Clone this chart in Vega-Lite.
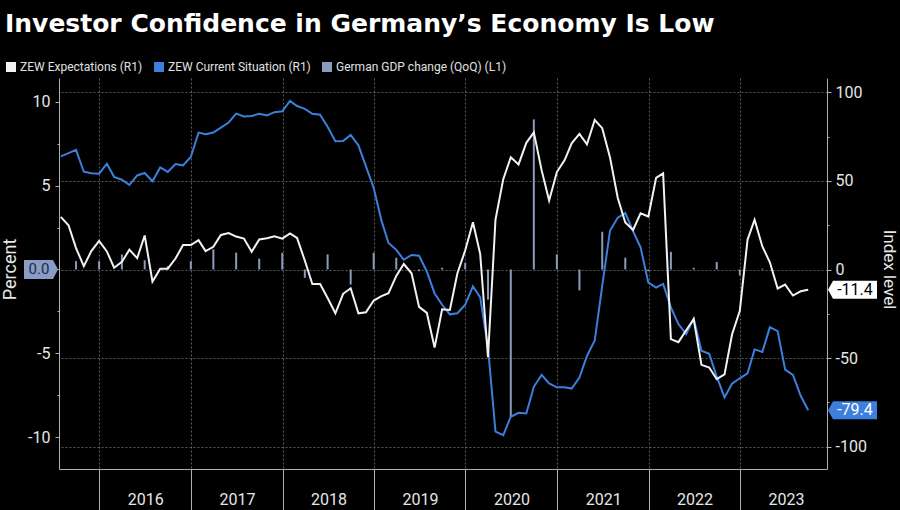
{
  "$schema": "https://vega.github.io/schema/vega-lite/v6.json",
  "width": 768,
  "height": 391,
  "autosize": "none",
  "padding": {"left": 59, "top": 78, "right": 73, "bottom": 41},
  "background": "#000000",
  "title": {
    "text": "Investor Confidence in Germany’s Economy Is Low",
    "anchor": "start",
    "frame": "group",
    "dx": -54,
    "offset": 4,
    "baseline": "alphabetic",
    "font": "DejaVu Sans",
    "fontSize": 25,
    "fontWeight": "bold",
    "color": "#ffffff"
  },
  "datasets": {
    "zew": [
      {"d": "2015-07-31", "e": 29.7, "c": 63.9},
      {"d": "2015-08-31", "e": 25.0, "c": 65.7},
      {"d": "2015-09-30", "e": 12.1, "c": 67.5},
      {"d": "2015-10-31", "e": 1.9, "c": 55.2},
      {"d": "2015-11-30", "e": 10.4, "c": 54.4},
      {"d": "2015-12-31", "e": 16.1, "c": 54.1},
      {"d": "2016-01-31", "e": 10.2, "c": 59.7},
      {"d": "2016-02-29", "e": 1.0, "c": 52.3},
      {"d": "2016-03-31", "e": 4.3, "c": 50.7},
      {"d": "2016-04-30", "e": 11.2, "c": 47.7},
      {"d": "2016-05-31", "e": 6.4, "c": 53.1},
      {"d": "2016-06-30", "e": 19.2, "c": 54.5},
      {"d": "2016-07-31", "e": -6.8, "c": 49.8},
      {"d": "2016-08-31", "e": 0.5, "c": 57.6},
      {"d": "2016-09-30", "e": 0.5, "c": 55.1},
      {"d": "2016-10-31", "e": 6.2, "c": 59.5},
      {"d": "2016-11-30", "e": 13.8, "c": 58.8},
      {"d": "2016-12-31", "e": 13.8, "c": 63.5},
      {"d": "2017-01-31", "e": 16.6, "c": 77.3},
      {"d": "2017-02-28", "e": 10.4, "c": 76.4},
      {"d": "2017-03-31", "e": 12.8, "c": 77.3},
      {"d": "2017-04-30", "e": 19.5, "c": 80.1},
      {"d": "2017-05-31", "e": 20.6, "c": 83.0},
      {"d": "2017-06-30", "e": 18.6, "c": 88.0},
      {"d": "2017-07-31", "e": 17.5, "c": 86.4},
      {"d": "2017-08-31", "e": 10.0, "c": 86.7},
      {"d": "2017-09-30", "e": 17.0, "c": 87.9},
      {"d": "2017-10-31", "e": 17.6, "c": 87.0},
      {"d": "2017-11-30", "e": 18.7, "c": 88.8},
      {"d": "2017-12-31", "e": 17.4, "c": 89.3},
      {"d": "2018-01-31", "e": 20.4, "c": 95.2},
      {"d": "2018-02-28", "e": 17.8, "c": 92.3},
      {"d": "2018-03-31", "e": 5.1, "c": 90.7},
      {"d": "2018-04-30", "e": -8.2, "c": 87.9},
      {"d": "2018-05-31", "e": -8.2, "c": 87.4},
      {"d": "2018-06-30", "e": -16.1, "c": 80.6},
      {"d": "2018-07-31", "e": -24.7, "c": 72.4},
      {"d": "2018-08-31", "e": -13.7, "c": 72.6},
      {"d": "2018-09-30", "e": -10.6, "c": 76.0},
      {"d": "2018-10-31", "e": -24.7, "c": 70.1},
      {"d": "2018-11-30", "e": -24.1, "c": 58.2},
      {"d": "2018-12-31", "e": -17.5, "c": 46.0},
      {"d": "2019-01-31", "e": -15.0, "c": 27.6},
      {"d": "2019-02-28", "e": -13.4, "c": 15.0},
      {"d": "2019-03-31", "e": -3.6, "c": 11.1},
      {"d": "2019-04-30", "e": 3.1, "c": 5.5},
      {"d": "2019-05-31", "e": -2.1, "c": 8.2},
      {"d": "2019-06-30", "e": -21.1, "c": 7.8},
      {"d": "2019-07-31", "e": -24.5, "c": -1.1},
      {"d": "2019-08-31", "e": -44.1, "c": -13.5},
      {"d": "2019-09-30", "e": -22.5, "c": -19.9},
      {"d": "2019-10-31", "e": -22.8, "c": -25.3},
      {"d": "2019-11-30", "e": -2.1, "c": -24.7},
      {"d": "2019-12-31", "e": 10.7, "c": -19.9},
      {"d": "2020-01-31", "e": 26.7, "c": -9.5},
      {"d": "2020-02-29", "e": 8.7, "c": -15.7},
      {"d": "2020-03-31", "e": -49.5, "c": -44.0},
      {"d": "2020-04-30", "e": 28.2, "c": -91.5},
      {"d": "2020-05-31", "e": 51.0, "c": -93.5},
      {"d": "2020-06-30", "e": 63.4, "c": -83.1},
      {"d": "2020-07-31", "e": 59.3, "c": -80.9},
      {"d": "2020-08-31", "e": 71.5, "c": -81.3},
      {"d": "2020-09-30", "e": 77.4, "c": -66.2},
      {"d": "2020-10-31", "e": 56.1, "c": -59.5},
      {"d": "2020-11-30", "e": 39.0, "c": -64.3},
      {"d": "2020-12-31", "e": 55.0, "c": -66.5},
      {"d": "2021-01-31", "e": 61.8, "c": -66.4},
      {"d": "2021-02-28", "e": 71.2, "c": -67.2},
      {"d": "2021-03-31", "e": 76.6, "c": -61.0},
      {"d": "2021-04-30", "e": 70.7, "c": -48.8},
      {"d": "2021-05-31", "e": 84.4, "c": -40.1},
      {"d": "2021-06-30", "e": 79.8, "c": -9.1},
      {"d": "2021-07-31", "e": 63.3, "c": 21.9},
      {"d": "2021-08-31", "e": 40.4, "c": 29.3},
      {"d": "2021-09-30", "e": 26.5, "c": 31.9},
      {"d": "2021-10-31", "e": 22.3, "c": 21.6},
      {"d": "2021-11-30", "e": 31.7, "c": 12.5},
      {"d": "2021-12-31", "e": 29.9, "c": -7.4},
      {"d": "2022-01-31", "e": 51.7, "c": -10.2},
      {"d": "2022-02-28", "e": 54.3, "c": -8.1},
      {"d": "2022-03-31", "e": -39.3, "c": -21.4},
      {"d": "2022-04-30", "e": -41.0, "c": -30.8},
      {"d": "2022-05-31", "e": -34.3, "c": -36.5},
      {"d": "2022-06-30", "e": -28.0, "c": -27.6},
      {"d": "2022-07-31", "e": -53.8, "c": -45.8},
      {"d": "2022-08-31", "e": -55.3, "c": -47.6},
      {"d": "2022-09-30", "e": -61.9, "c": -60.5},
      {"d": "2022-10-31", "e": -59.2, "c": -72.2},
      {"d": "2022-11-30", "e": -36.7, "c": -64.5},
      {"d": "2022-12-31", "e": -23.3, "c": -61.4},
      {"d": "2023-01-31", "e": 16.9, "c": -58.6},
      {"d": "2023-02-28", "e": 28.1, "c": -45.1},
      {"d": "2023-03-31", "e": 13.0, "c": -46.5},
      {"d": "2023-04-30", "e": 4.1, "c": -32.5},
      {"d": "2023-05-31", "e": -10.7, "c": -34.8},
      {"d": "2023-06-30", "e": -8.5, "c": -56.5},
      {"d": "2023-07-31", "e": -14.7, "c": -59.5},
      {"d": "2023-08-31", "e": -12.3, "c": -71.3},
      {"d": "2023-09-30", "e": -11.4, "c": -79.4}
    ],
    "gdp": [
      {"d": "2015-09-30", "g": 0.5},
      {"d": "2015-12-31", "g": 0.5},
      {"d": "2016-03-31", "g": 0.9},
      {"d": "2016-06-30", "g": 0.55},
      {"d": "2016-09-30", "g": 0.2},
      {"d": "2016-12-31", "g": 0.5},
      {"d": "2017-03-31", "g": 1.2},
      {"d": "2017-06-30", "g": 1.0},
      {"d": "2017-09-30", "g": 0.65},
      {"d": "2017-12-31", "g": 1.0},
      {"d": "2018-03-31", "g": -0.5},
      {"d": "2018-06-30", "g": 0.9},
      {"d": "2018-09-30", "g": -0.9},
      {"d": "2018-12-31", "g": 1.0},
      {"d": "2019-03-31", "g": 0.7},
      {"d": "2019-06-30", "g": -0.1},
      {"d": "2019-09-30", "g": 0.1},
      {"d": "2019-12-31", "g": 0.4},
      {"d": "2020-03-31", "g": -1.8},
      {"d": "2020-06-30", "g": -8.8},
      {"d": "2020-09-30", "g": 8.95},
      {"d": "2020-12-31", "g": 0.9},
      {"d": "2021-03-31", "g": -1.25},
      {"d": "2021-06-30", "g": 2.25},
      {"d": "2021-09-30", "g": 0.7},
      {"d": "2021-12-31", "g": -0.1},
      {"d": "2022-03-31", "g": 1.05},
      {"d": "2022-06-30", "g": 0.1},
      {"d": "2022-09-30", "g": 0.45},
      {"d": "2022-12-31", "g": -0.35},
      {"d": "2023-03-31", "g": 0.05},
      {"d": "2023-06-30", "g": 0.0}
    ],
    "lastLeft": [{"v": 0.0, "t": "0.0"}],
    "lastRight": [
      {"v": -11.4, "t": "-11.4"},
      {"v": -79.4, "t": "-79.4"}
    ]
  },
  "layer": [
    {
      "layer": [
        {
          "data": {"name": "gdp"},
          "mark": {"type": "rule", "strokeWidth": 2},
          "encoding": {
            "x": {
              "field": "d",
              "type": "temporal",
              "scale": {
                "type": "utc",
                "domain": [
                  {"year": 2015, "month": 7, "date": 24, "utc": true},
                  {"year": 2023, "month": 12, "date": 14, "utc": true}
                ]
              },
              "axis": {
                "title": null,
                "values": [
                  {"year": 2016, "month": 1, "date": 1, "utc": true},
                  {"year": 2017, "month": 1, "date": 1, "utc": true},
                  {"year": 2018, "month": 1, "date": 1, "utc": true},
                  {"year": 2019, "month": 1, "date": 1, "utc": true},
                  {"year": 2020, "month": 1, "date": 1, "utc": true},
                  {"year": 2021, "month": 1, "date": 1, "utc": true},
                  {"year": 2022, "month": 1, "date": 1, "utc": true},
                  {"year": 2023, "month": 1, "date": 1, "utc": true}
                ],
                "labelExpr": "utcFormat(datum.value, '%Y')",
                "labelOffset": 46,
                "labelBound": false,
                "labelFlush": false,
                "labelOverlap": false,
                "labelBaseline": "middle",
                "tickSize": 41,
                "labelPadding": -11,
                "grid": true
              }
            },
            "y": {
              "field": "g",
              "type": "quantitative",
              "scale": {"domain": [-11.9, 11.42], "nice": false, "zero": false},
              "axis": {
                "orient": "left",
                "title": "Percent",
                "titleAngle": -90,
                "titleX": -49,
                "titleY": 191,
                "titleAlign": "center",
                "titleBaseline": "middle",
                "values": [-10, -7.5, -5, -2.5, 0, 2.5, 5, 7.5, 10],
                "labelExpr": "datum.value % 5 === 0 && datum.value !== 0 ? '' + datum.value : ''",
                "tickSize": {"condition": {"test": "datum.value % 5 === 0", "value": 4}, "value": 2},
                "labelPadding": 5,
                "grid": false
              }
            },
            "y2": {"datum": 0},
            "color": {
              "datum": "German GDP change (QoQ) (L1)",
              "type": "nominal",
              "scale": {
                "domain": ["ZEW Expectations (R1)", "ZEW Current Situation (R1)", "German GDP change (QoQ) (L1)"],
                "range": ["#f2f2f2", "#3d7fdc", "#8b9bbd"]
              },
              "legend": {
                "title": null,
                "orient": "none",
                "legendX": -54,
                "legendY": -17,
                "direction": "horizontal",
                "symbolType": "square",
                "symbolSize": 100,
                "labelFont": "Roboto",
                "labelFontSize": 12,
                "labelLimit": 400,
                "labelColor": "#e0e0e0",
                "labelOffset": 3,
                "columnPadding": 10,
                "encode": {
                  "symbols": {
                    "update": {
                      "fill": {"scale": "color", "field": "value"},
                      "opacity": {"value": 1},
                      "strokeWidth": {"value": 0}
                    }
                  }
                }
              }
            }
          }
        },
        {
          "data": {"name": "lastLeft"},
          "mark": {
            "type": "point",
            "shape": "M-0.1,0 L-0.6,-0.95 L-3.5,-0.95 L-3.5,0.95 L-0.6,0.95 Z",
            "size": 400,
            "filled": true,
            "opacity": 1,
            "strokeWidth": 0,
            "color": "#8a9cc4"
          },
          "encoding": {
            "x": {"datum": {"year": 2015, "month": 7, "date": 24, "utc": true}, "type": "temporal"},
            "y": {"field": "v", "type": "quantitative"}
          }
        },
        {
          "data": {"name": "lastLeft"},
          "mark": {
            "type": "text",
            "dx": -20,
            "align": "center",
            "baseline": "middle",
            "font": "Roboto",
            "fontSize": 15,
            "color": "#1b2b4b"
          },
          "encoding": {
            "x": {"datum": {"year": 2015, "month": 7, "date": 24, "utc": true}, "type": "temporal"},
            "y": {"field": "v", "type": "quantitative"},
            "text": {"field": "t"}
          }
        }
      ]
    },
    {
      "layer": [
        {
          "data": {"name": "zew"},
          "mark": {"type": "line", "strokeWidth": 2},
          "encoding": {
            "x": {"field": "d", "type": "temporal"},
            "y": {
              "field": "c",
              "type": "quantitative",
              "scale": {"domain": [-112.6, 108.1], "nice": false, "zero": false},
              "axis": {
                "orient": "right",
                "title": "Index level",
                "titleAngle": 90,
                "titleX": 61,
                "titleY": 191,
                "titleFontSize": 17,
                "titleAlign": "center",
                "titleBaseline": "middle",
                "values": [-100, -75, -50, -25, 0, 25, 50, 75, 100],
                "labelExpr": "datum.value % 50 === 0 ? '' + datum.value : ''",
                "tickSize": {"condition": {"test": "datum.value % 50 === 0", "value": 4}, "value": 2},
                "labelPadding": 4,
                "grid": true,
                "gridOpacity": {"condition": {"test": "datum.value % 50 === 0", "value": 1}, "value": 0}
              }
            },
            "color": {"datum": "ZEW Current Situation (R1)", "type": "nominal"}
          }
        },
        {
          "data": {"name": "zew"},
          "mark": {"type": "line", "strokeWidth": 2},
          "encoding": {
            "x": {"field": "d", "type": "temporal"},
            "y": {"field": "e", "type": "quantitative"},
            "color": {"datum": "ZEW Expectations (R1)", "type": "nominal"}
          }
        },
        {
          "data": {"name": "lastRight"},
          "mark": {
            "type": "point",
            "shape": "M0.1,0 L0.6,-0.9 L5.0,-0.9 L5.0,0.9 L0.6,0.9 Z",
            "size": 400,
            "filled": true,
            "opacity": 1,
            "strokeWidth": 0
          },
          "encoding": {
            "x": {"datum": {"year": 2023, "month": 12, "date": 14, "utc": true}, "type": "temporal"},
            "y": {"field": "v", "type": "quantitative"},
            "fill": {"condition": {"test": "datum.v < -50", "value": "#3d7fdc"}, "value": "#ffffff"}
          }
        },
        {
          "data": {"name": "lastRight"},
          "mark": {
            "type": "text",
            "dx": 28,
            "align": "center",
            "baseline": "middle",
            "font": "Roboto",
            "fontSize": 16
          },
          "encoding": {
            "x": {"datum": {"year": 2023, "month": 12, "date": 14, "utc": true}, "type": "temporal"},
            "y": {"field": "v", "type": "quantitative"},
            "text": {"field": "t"},
            "color": {"condition": {"test": "datum.v < -50", "value": "#ffffff"}, "value": "#000000"}
          }
        }
      ]
    }
  ],
  "resolve": {"scale": {"y": "independent"}},
  "config": {
    "view": {"stroke": null},
    "font": "Roboto",
    "axis": {
      "labelFont": "Roboto",
      "titleFont": "Roboto",
      "labelColor": "#e6e6e6",
      "titleColor": "#e6e6e6",
      "labelFontSize": 16,
      "titleFontSize": 18,
      "titleFontWeight": "normal",
      "domainColor": "#b0b0b0",
      "tickColor": "#b0b0b0",
      "gridColor": "#5c5c5c",
      "gridDash": [2, 2],
      "gridWidth": 1
    }
  }
}
